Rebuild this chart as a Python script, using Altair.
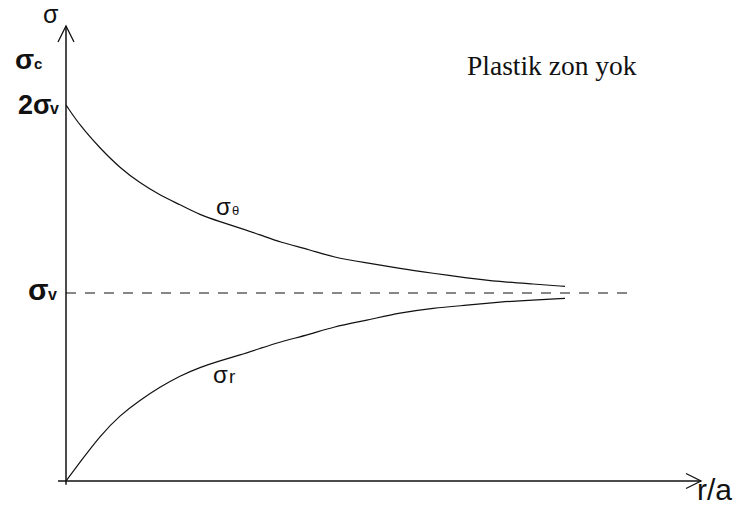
import altair as alt
import pandas as pd

# Stress distribution around a circular opening, elastic case (no plastic zone).
# r/a along the horizontal axis, stresses in units of sigma_v.
r_a = [1.00, 1.14, 1.34, 1.54, 1.74, 1.94, 2.14, 2.34, 2.54, 2.74, 2.94,
       3.14, 3.44, 3.67, 4.01, 4.34, 4.67, 5.01, 5.34, 5.67, 5.99]
sigma_theta = [2.00, 1.89, 1.77, 1.665, 1.585, 1.52, 1.47, 1.415, 1.38, 1.345, 1.31,
               1.27, 1.23, 1.19, 1.16, 1.13, 1.105, 1.08, 1.06, 1.048, 1.035]
sigma_r = [0.00, 0.10, 0.24, 0.35, 0.43, 0.50, 0.56, 0.605, 0.64, 0.67, 0.705,
           0.74, 0.78, 0.82, 0.855, 0.895, 0.92, 0.935, 0.952, 0.963, 0.971]

# Reference stress levels marked on the vertical axis
sigma_v = 1.0
two_sigma_v = 2.0
sigma_c = 2.22

# Extents of the drawn axes and of the dashed sigma_v line
x_min, x_max = 1.0, 7.4
y_min, y_max = 0.0, 2.5
axis_x_start, axis_x_end = 0.92, 7.35
axis_y_start, axis_y_end = -0.02, 2.42
dash_end = 6.66

INK = "#111111"
SANS = "Liberation Sans"
SERIF = "Liberation Serif"

curves = pd.DataFrame({
    "r_a": r_a * 2,
    "stress": sigma_theta + sigma_r,
    "series": ["theta"] * len(r_a) + ["r"] * len(r_a),
})

xs = alt.Scale(domain=[x_min, x_max], nice=False, zero=False)
ys = alt.Scale(domain=[y_min, y_max], nice=False, zero=False)

lines = alt.Chart(curves).mark_line(
    color=INK, strokeWidth=1.2, interpolate="basis"
).encode(
    x=alt.X("r_a:Q", scale=xs, axis=None),
    y=alt.Y("stress:Q", scale=ys, axis=None),
    detail="series:N",
)


def hrule(x0, x1, y, **style):
    df = pd.DataFrame({"x": [x0], "x2": [x1], "y": [y]})
    return alt.Chart(df).mark_rule(color=INK, **style).encode(
        x=alt.X("x:Q", scale=xs, axis=None), x2="x2:Q",
        y=alt.Y("y:Q", scale=ys, axis=None),
    )


def vrule(x, y0, y1, **style):
    df = pd.DataFrame({"x": [x], "y": [y0], "y2": [y1]})
    return alt.Chart(df).mark_rule(color=INK, **style).encode(
        x=alt.X("x:Q", scale=xs, axis=None),
        y=alt.Y("y:Q", scale=ys, axis=None), y2="y2:Q",
    )


def head(x, y, shape, size):
    df = pd.DataFrame({"x": [x], "y": [y]})
    return alt.Chart(df).mark_point(
        shape=shape, size=size, filled=False, color=INK, strokeWidth=1.3, opacity=1
    ).encode(
        x=alt.X("x:Q", scale=xs, axis=None),
        y=alt.Y("y:Q", scale=ys, axis=None),
    )


def label(text, x, y, size, dx=0, dy=0, bold=False, font=SANS):
    df = pd.DataFrame({"x": [x], "y": [y], "t": [text]})
    return alt.Chart(df).mark_text(
        align="left", baseline="alphabetic", dx=dx, dy=dy,
        fontSize=size, font=font, fontWeight="bold" if bold else "normal", color=INK,
    ).encode(
        x=alt.X("x:Q", scale=xs, axis=None),
        y=alt.Y("y:Q", scale=ys, axis=None),
        text="t:N",
    )


dashed = hrule(x_min, dash_end, sigma_v, strokeWidth=1.2, strokeDash=[10, 9])
y_axis = vrule(x_min, axis_y_start, axis_y_end, strokeWidth=1.5)
x_axis = hrule(axis_x_start, axis_x_end, y_min, strokeWidth=1.5)

# Open arrowheads at the axis ends
up_head = head(x_min, axis_y_end, "M-0.5,1L0,0L0.5,1", 1024)
right_head = head(axis_x_end, y_min, "M-1,-0.5L0,0L-1,0.5", 900)

texts = [
    # axis title
    label("σ", x_min, y_max, 25, dx=-23, dy=12),
    # levels on the stress axis
    label("σ", x_min, sigma_c, 28, dx=-51, dy=5.5, bold=True),
    label("c", x_min, sigma_c, 15, dx=-32, dy=5.5, bold=True),
    label("2σ", x_min, two_sigma_v, 27, dx=-48, dy=9, bold=True),
    label("v", x_min, two_sigma_v, 16, dx=-16, dy=9, bold=True),
    label("σ", x_min, sigma_v, 30, dx=-38, dy=7, bold=True),
    label("v", x_min, sigma_v, 16, dx=-18, dy=7, bold=True),
    # curve names
    label("σ", 2.50, 1.415, 24),
    label("θ", 2.50, 1.415, 13, dx=16),
    label("σ", 2.47, 0.521, 24),
    label("r", 2.47, 0.521, 19, dx=16),
    # note and horizontal axis title
    label("Plastik zon yok", 5.01, 2.16, 27.5, font=SERIF),
    label("r/a", 7.31, -0.101, 30),
]

chart = alt.layer(
    dashed, lines, y_axis, x_axis, up_head, right_head, *texts
).properties(
    width=640, height=470,
    padding={"left": 66, "top": 11, "right": 32, "bottom": 28},
    autosize=alt.AutoSizeParams(type="none"),
    background="white",
).configure_view(stroke=None)

chart.save("out.html", embed_options={"renderer": "svg", "actions": False})
